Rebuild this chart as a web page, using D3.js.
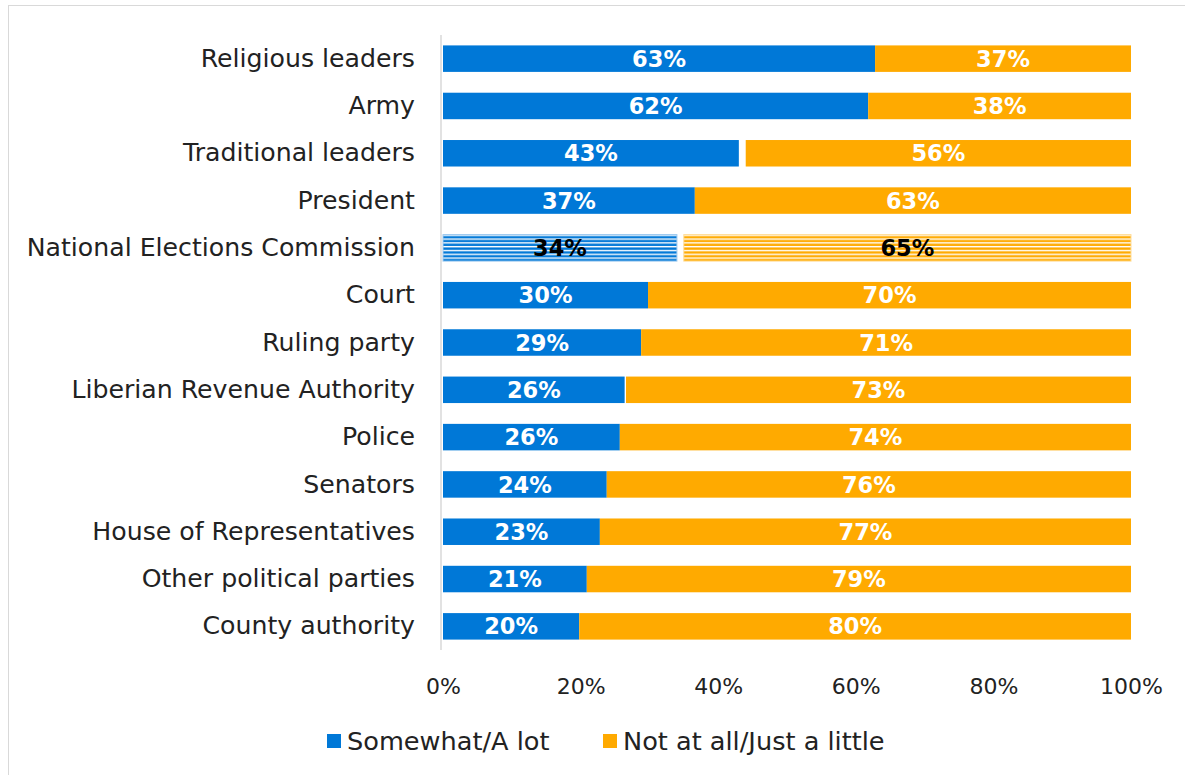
<!DOCTYPE html>
<html>
<head>
<meta charset="utf-8">
<script src="https://cdn.jsdelivr.net/npm/d3@7"></script>
<style>
  html, body { margin: 0; padding: 0; background: #fff; }
  svg { display: block; }
  text { font-family: "DejaVu Sans", "Noto Sans", sans-serif; }
</style>
</head>
<body>
<svg id="chart" width="1185" height="775"></svg>
<script>
// Trust in institutions (share of respondents)
const institutions = [
  "Religious leaders", "Army", "Traditional leaders", "President",
  "National Elections Commission", "Court", "Ruling party",
  "Liberian Revenue Authority", "Police", "Senators",
  "House of Representatives", "Other political parties", "County authority"
];
const somewhatALot = [62.8, 61.8, 43.0, 36.6, 34.0, 29.8, 28.8, 26.4, 25.7, 23.8, 22.8, 20.9, 19.8];
const notAtAllJustALittle = [37.2, 38.2, 56.0, 63.4, 65.0, 70.2, 71.2, 73.4, 74.3, 76.2, 77.2, 79.1, 80.2];
const highlighted = ["National Elections Commission"];
const xTicks = [0, 20, 40, 60, 80, 100];
const seriesNames = ["Somewhat/A lot", "Not at all/Just a little"];

const BLUE = "#0078d7";
const ORANGE = "#ffaa00";

const svg = d3.select("#chart");
const margin = { left: 443, right: 54, top: 35, bottom: 125 };
const W = 1185, H = 775;

// frame around the chart area
svg.append("rect")
  .attr("x", 8.5).attr("y", 5.5)
  .attr("width", 1200).attr("height", 800)
  .attr("fill", "none").attr("stroke", "#d9d9d9").attr("stroke-width", 1);

const x = d3.scaleLinear().domain([0, 100]).range([margin.left, W - margin.right]);
const y = d3.scaleBand().domain(institutions).range([margin.top, H - margin.bottom]).paddingInner(0.44).paddingOuter(0.22);

// striped fills for the highlighted row
const defs = svg.append("defs");
[["stripe-blue", BLUE], ["stripe-orange", ORANGE]].forEach(([id, c]) => {
  const p = defs.append("pattern").attr("id", id)
    .attr("patternUnits", "userSpaceOnUse").attr("width", 8).attr("height", 3.8);
  p.append("rect").attr("width", 8).attr("height", 3.8).attr("fill", "#fff");
  p.append("rect").attr("y", 0.4).attr("width", 8).attr("height", 2.4).attr("fill", c);
});

const rows = institutions.map((name, i) => ({
  name,
  a: somewhatALot[i],
  b: notAtAllJustALittle[i],
  hl: highlighted.includes(name)
}));

const g = svg.append("g");

// Somewhat/A lot segment from 0
g.selectAll("rect.a").data(rows).join("rect")
  .attr("class", "a")
  .attr("x", x(0))
  .attr("y", d => y(d.name))
  .attr("width", d => x(d.a) - x(0))
  .attr("height", y.bandwidth())
  .attr("fill", d => d.hl ? "url(#stripe-blue)" : BLUE)
  .attr("stroke", d => d.hl ? "#9cc8ee" : "none")
  .attr("stroke-width", 1);

// Not at all/Just a little segment, ending at 100%
g.selectAll("rect.b").data(rows).join("rect")
  .attr("class", "b")
  .attr("x", d => x(100 - d.b))
  .attr("y", d => y(d.name))
  .attr("width", d => x(100) - x(100 - d.b))
  .attr("height", y.bandwidth())
  .attr("fill", d => d.hl ? "url(#stripe-orange)" : ORANGE)
  .attr("stroke", d => d.hl ? "#ffdd99" : "none")
  .attr("stroke-width", 1);

// value labels
const labelFont = 22.5;
g.selectAll("text.la").data(rows).join("text")
  .attr("class", "la")
  .attr("x", d => (x(0) + x(d.a)) / 2)
  .attr("y", d => y(d.name) + y.bandwidth() / 2)
  .attr("dy", "0.36em")
  .attr("text-anchor", "middle")
  .attr("font-size", labelFont).attr("font-weight", "bold")
  .attr("fill", d => d.hl ? "#000" : "#fff")
  .text(d => Math.round(d.a) + "%");

g.selectAll("text.lb").data(rows).join("text")
  .attr("class", "lb")
  .attr("x", d => (x(100 - d.b) + x(100)) / 2)
  .attr("y", d => y(d.name) + y.bandwidth() / 2)
  .attr("dy", "0.36em")
  .attr("text-anchor", "middle")
  .attr("font-size", labelFont).attr("font-weight", "bold")
  .attr("fill", d => d.hl ? "#000" : "#fff")
  .text(d => Math.round(d.b) + "%");

// vertical category axis
const yAxis = svg.append("g")
  .attr("transform", `translate(${x(0) - 2},0)`)
  .call(d3.axisLeft(y).tickSize(0).tickPadding(26));
yAxis.select(".domain").attr("stroke", "#d9d9d9").attr("stroke-width", 1.5)
  .attr("d", `M0,${margin.top}V${H - margin.bottom}`);
yAxis.selectAll("text")
  .attr("font-size", 25.2).attr("fill", "#222")
  .attr("font-family", "\"DejaVu Sans\", sans-serif");

// horizontal value axis (labels only)
const xAxis = svg.append("g")
  .attr("transform", `translate(0,${H - margin.bottom})`)
  .call(d3.axisBottom(x).tickValues(xTicks).tickSize(0).tickPadding(28).tickFormat(d => d + "%"));
xAxis.select(".domain").remove();
xAxis.selectAll("text")
  .attr("font-size", 22).attr("fill", "#222")
  .attr("font-family", "\"DejaVu Sans\", sans-serif");

// legend
const legend = svg.append("g").attr("transform", "translate(327,741)");
const legendX = [0, 276];
seriesNames.forEach((name, i) => {
  const lg = legend.append("g").attr("transform", `translate(${legendX[i]},0)`);
  lg.append("rect").attr("x", 0).attr("y", -7).attr("width", 14).attr("height", 14)
    .attr("fill", i === 0 ? BLUE : ORANGE);
  lg.append("text").attr("x", 20).attr("y", 0).attr("dy", "0.36em")
    .attr("font-size", 25.6).attr("fill", "#222").text(name);
});
</script>
</body>
</html>
